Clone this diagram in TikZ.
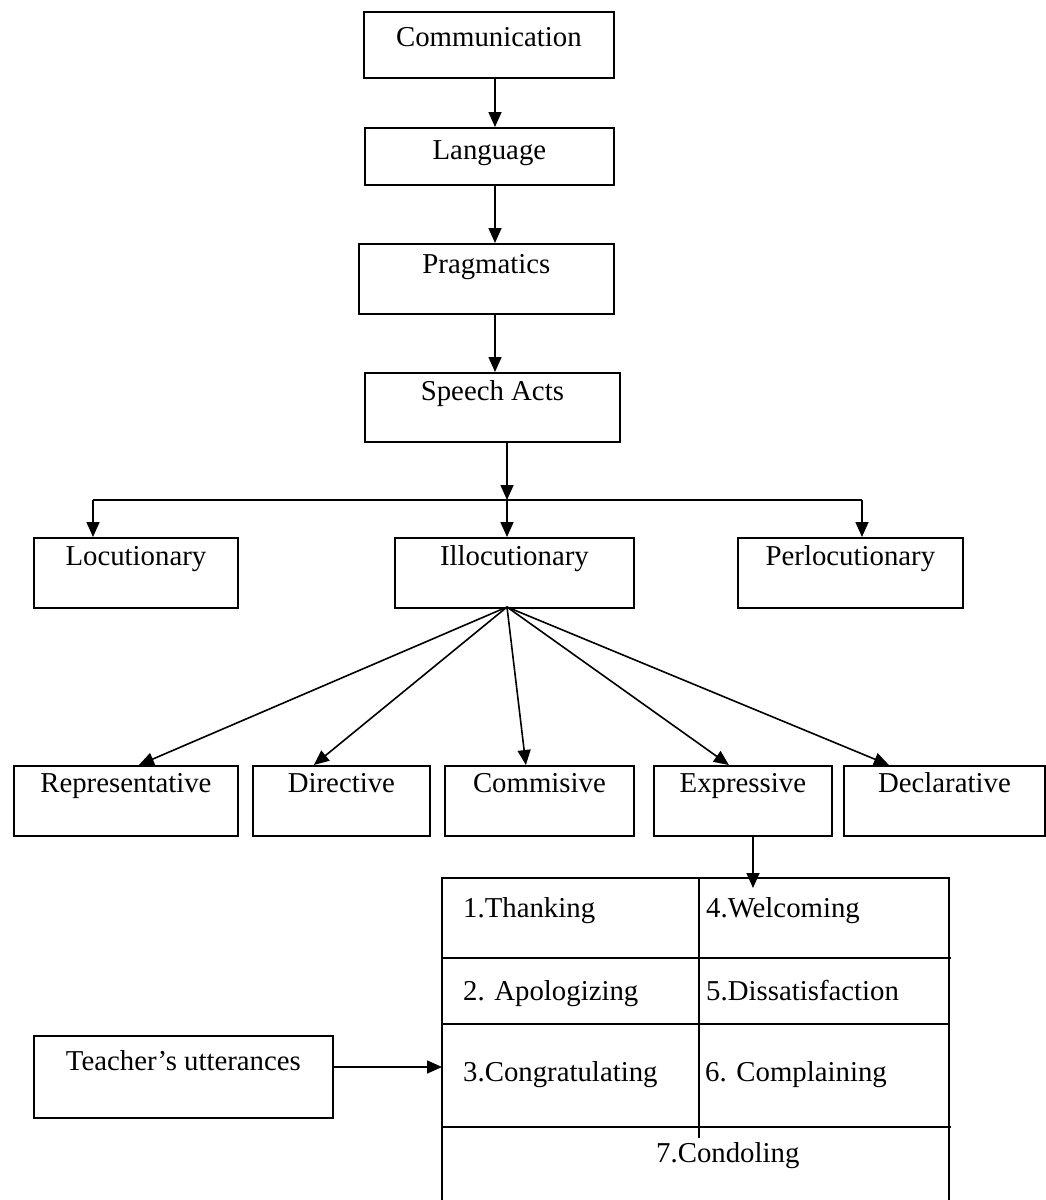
\documentclass[tikz,border=0pt]{standalone}
\usepackage{fontspec}
\setmainfont{Liberation Serif}
\usetikzlibrary{arrows.meta}
\tikzset{
  actbox/.style={draw, line width=1.8pt, anchor=north west, inner sep=0pt},
  arr/.style={line width=1.6pt, -{Triangle[length=15pt,width=13pt]}},
}
\begin{document}
\begin{tikzpicture}[x=1pt,y=-1pt,font=\fontsize{28.8}{34}\selectfont]
        \useasboundingbox (0,0) rectangle (1046,1200);
        \begin{scope}[every node/.style={actbox}]
        \node[minimum width=250pt, text height=35pt, text depth=31pt] (comm) at (363,11) {Communication};
        \node[minimum width=249pt, text height=32pt, text depth=25pt] (lang) at (364,127) {Language};
        \node[minimum width=255pt, text height=30pt, text depth=40pt] (prag) at (358,243) {Pragmatics};
        \node[minimum width=255pt, text height=28pt, text depth=41pt] (speech) at (364,372) {Speech Acts};
        \node[minimum width=204pt, text height=28pt, text depth=42pt] (loc) at (33,537) {Locutionary};
        \node[minimum width=239pt, text height=28pt, text depth=42pt] (illoc) at (394,537) {Illocutionary};
        \node[minimum width=225pt, text height=28pt, text depth=42pt] (perloc) at (737,537) {Perlocutionary};
        \node[minimum width=224pt, text height=27pt, text depth=43pt] (repr) at (13,765) {Representative};
        \node[minimum width=177pt, text height=27pt, text depth=43pt] (dir) at (252,765) {Directive};
        \node[minimum width=189pt, text height=27pt, text depth=43pt] (commis) at (444,765) {Commisive};
        \node[minimum width=178pt, text height=27pt, text depth=43pt] (expr) at (653,765) {Expressive};
        \node[minimum width=201pt, text height=27pt, text depth=43pt] (decl) at (843,765) {Declarative};
        \node[minimum width=299pt, text height=35pt, text depth=47pt] (teacher) at (33,1035) {Teacher’s utterances};
        \end{scope}
        % table of expressives
        \draw[line width=1.8pt] (442,1200) -- (442,878) -- (949,878) -- (949,1200);
        \draw[line width=1.8pt] (442,958) -- (951,958) (442,1024) -- (949,1024)
              (442,1127) -- (951,1127) (699,878) -- (699,1138);
        \begin{scope}[every node/.style={anchor=base west, inner sep=0pt}]
        \node (thank) at (463,917) {1.Thanking};
        \node (welcome) at (706,917) {4.Welcoming};
        \node (apolog) at (463,1000) {2. Apologizing};
        \node (dissat) at (706,1000) {5.Dissatisfaction};
        \node (congrat) at (463,1081) {3.Congratulating};
        \node (complain) at (705,1081) {6. Complaining};
        \node (condol) at (656,1162) {7.Condoling};
        \end{scope}
        \coordinate (spine) at (495,0);
        \coordinate (split) at (507,500);
        \coordinate (splitL) at (93,500);
        \coordinate (splitR) at (862,500);
        \coordinate (fan) at (507,607);
        \coordinate (gridtop) at (753,888);
        \coordinate (gridin) at (442,1067);
        \draw[line width=1.6pt] (splitL) -- (splitR);
        \begin{scope}[every edge/.style={draw, arr}]
        \path (comm.south -| spine) edge (lang.north -| spine)
              (lang.south -| spine) edge (prag.north -| spine)
              (prag.south -| spine) edge (speech.north -| spine)
              (speech.south -| split) edge (split)
              (splitL) edge (loc.north -| splitL)
              (split) edge (illoc.north -| split)
              (splitR) edge (perloc.north -| splitR)
              (fan) edge ([xshift=13pt]repr.north)
              (fan) edge ([xshift=-27.5pt]dir.north)
              (fan) edge ([xshift=-13.5pt]commis.north)
              (fan) edge ([xshift=-14pt]expr.north)
              (fan) edge ([xshift=-55.5pt]decl.north)
              (expr.south -| gridtop) edge (gridtop)
              (teacher.east |- gridin) edge (gridin);
        \end{scope}
\end{tikzpicture}
\end{document}
